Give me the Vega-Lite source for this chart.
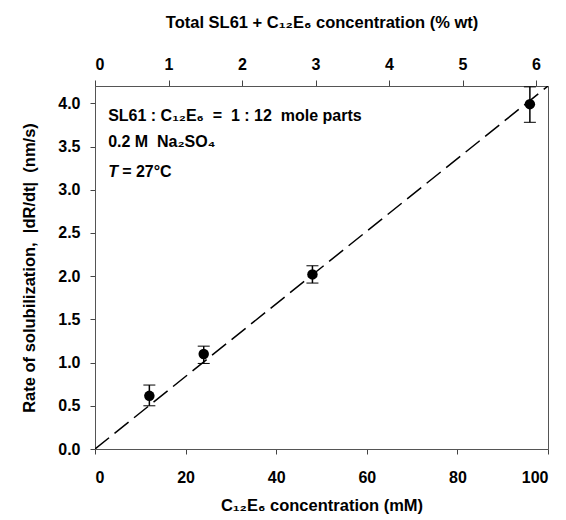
{
  "$schema": "https://vega.github.io/schema/vega-lite/v6.json",
  "autosize": {"type": "none"},
  "width": 453,
  "height": 363,
  "padding": {"left": 95, "top": 86, "right": 18, "bottom": 71},
  "config": {
    "view": {"stroke": "#555", "strokeWidth": 1},
    "font": "Liberation Sans",
    "axis": {
      "grid": false,
      "domainColor": "#555",
      "tickColor": "#444",
      "labelFont": "Liberation Sans",
      "labelFontWeight": "bold",
      "labelFontSize": 16,
      "labelColor": "black",
      "titleFont": "Liberation Sans",
      "titleFontWeight": "bold",
      "titleFontSize": 16.5,
      "titleColor": "black",
      "tickSize": 5
    }
  },
  "datasets": {
    "pts": [
      {"c": 12, "rate": 0.615, "lo": 0.50, "hi": 0.74},
      {"c": 24, "rate": 1.10, "lo": 0.99, "hi": 1.19},
      {"c": 48, "rate": 2.02, "lo": 1.92, "hi": 2.12},
      {"c": 96, "rate": 3.99, "lo": 3.78, "hi": 4.19}
    ],
    "fit": [
      {"c": 0, "rate": 0},
      {"c": 100, "rate": 4.2}
    ],
    "top": [
      {"wt": 0},
      {"wt": 6}
    ],
    "notes": [
      {"c": 2.9, "rate": 3.85, "text": "SL61 : C₁₂E₆\u00a0 =\u00a0 1 : 12\u00a0 mole parts"},
      {"c": 2.9, "rate": 3.55, "text": "0.2 M\u00a0 Na₂SO₄"}
    ],
    "tnote": [
      {"c": 2.9, "rate": 3.2}
    ]
  },
  "resolve": {"scale": {"x": "independent"}, "axis": {"x": "independent"}},
  "layer": [
    {
      "layer": [
        {
          "data": {"name": "fit"},
          "mark": {"type": "line", "color": "black", "strokeWidth": 1.5, "strokeDash": [18, 7], "clip": true},
          "encoding": {
            "x": {"field": "c", "type": "quantitative", "title": "C₁₂E₆ concentration (mM)"},
            "y": {"field": "rate", "type": "quantitative", "title": "Rate of solubilization,\u00a0 |dR/dt|\u00a0 (nm/s)"}
          }
        },
        {
          "data": {"name": "pts"},
          "mark": {"type": "errorbar", "ticks": {"size": 12, "color": "black", "strokeWidth": 1.5, "opacity": 1}, "rule": {"color": "black", "strokeWidth": 1.5, "opacity": 1}},
          "encoding": {
            "x": {"field": "c", "type": "quantitative", "title": "C₁₂E₆ concentration (mM)"},
            "y": {"field": "lo", "type": "quantitative", "title": "Rate of solubilization,\u00a0 |dR/dt|\u00a0 (nm/s)"},
            "y2": {"field": "hi"}
          }
        },
        {
          "data": {"name": "pts"},
          "mark": {"type": "point", "filled": true, "color": "black", "opacity": 1, "size": 110},
          "encoding": {
            "x": {"field": "c", "type": "quantitative",
              "scale": {"domain": [0, 100], "nice": false},
              "axis": {"title": "C₁₂E₆ concentration (mM)", "values": [0, 20, 40, 60, 80, 100], "labelPadding": 15, "titlePadding": 12}},
            "y": {"field": "rate", "type": "quantitative",
              "scale": {"domain": [0, 4.2], "nice": false},
              "axis": {"title": "Rate of solubilization,\u00a0 |dR/dt|\u00a0 (nm/s)", "values": [0, 0.5, 1, 1.5, 2, 2.5, 3, 3.5, 4], "format": ".1f", "labelPadding": 10, "titlePadding": 20}}
          }
        },
        {
          "data": {"name": "notes"},
          "mark": {"type": "text", "align": "left", "baseline": "middle", "fontSize": 16, "fontWeight": "bold", "font": "Liberation Sans", "color": "black"},
          "encoding": {
            "x": {"field": "c", "type": "quantitative"},
            "y": {"field": "rate", "type": "quantitative"},
            "text": {"field": "text"}
          }
        },
        {
          "data": {"name": "tnote"},
          "mark": {"type": "text", "align": "left", "baseline": "middle", "fontSize": 16, "fontWeight": "bold", "fontStyle": "italic", "font": "Liberation Sans", "color": "black", "text": "T"},
          "encoding": {
            "x": {"field": "c", "type": "quantitative"},
            "y": {"field": "rate", "type": "quantitative"}
          }
        },
        {
          "data": {"name": "tnote"},
          "mark": {"type": "text", "align": "left", "baseline": "middle", "fontSize": 16, "fontWeight": "bold", "font": "Liberation Sans", "color": "black", "text": "= 27°C", "dx": 14},
          "encoding": {
            "x": {"field": "c", "type": "quantitative"},
            "y": {"field": "rate", "type": "quantitative"}
          }
        }
      ]
    },
    {
      "data": {"name": "top"},
      "mark": {"type": "point", "opacity": 0},
      "encoding": {
        "x": {"field": "wt", "type": "quantitative",
          "scale": {"domain": [0, 6.163], "nice": false},
          "axis": {"orient": "top", "title": "Total SL61 + C₁₂E₆ concentration (% wt)", "values": [0, 1, 2, 3, 4, 5, 6], "tickSize": 6, "labelPadding": 8, "titlePadding": 26}}
      }
    }
  ]
}
